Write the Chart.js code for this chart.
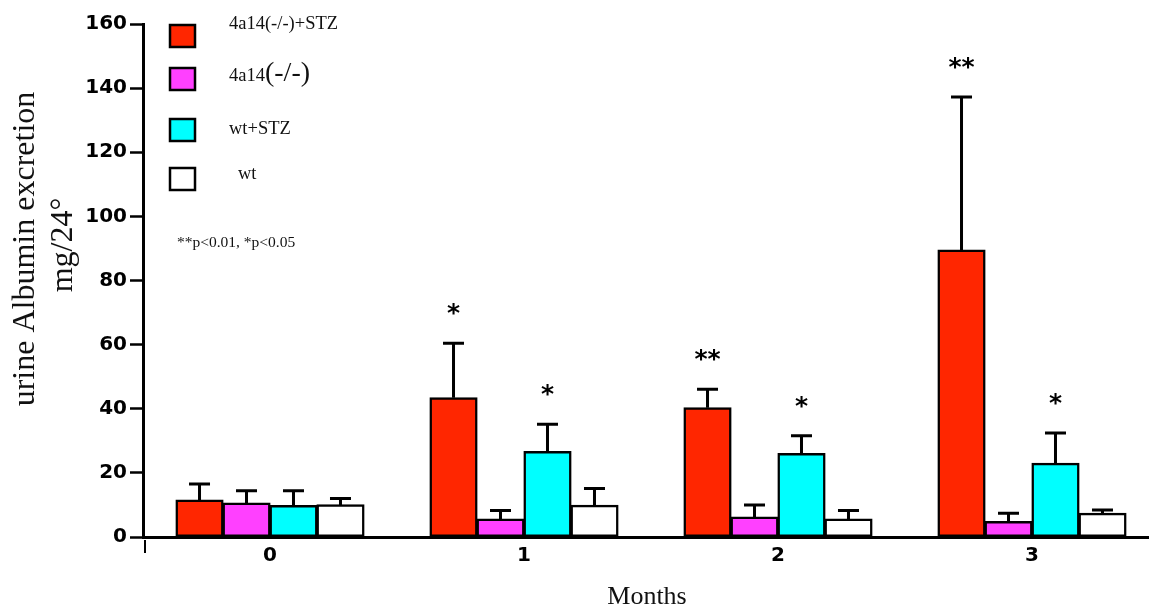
<!DOCTYPE html>
<html><head><meta charset="utf-8">
<script src="https://cdn.jsdelivr.net/npm/chart.js@4.4.1/dist/chart.umd.min.js"></script>
<style>html,body{margin:0;padding:0;overflow:hidden;background:#fff;width:1149px;height:607px}canvas{display:block}</style>
</head><body>
<canvas id="c" width="1160" height="607"></canvas>
<script>
// ---- data ----
const months = ['0', '1', '2', '3'];
const seriesNames = ['4a14(-/-)+STZ', '4a14(-/-)', 'wt+STZ', 'wt'];
const koStz    = [11.5, 43.4, 40.3, 89.5];
const koStzErr = [5.0, 17.0, 5.8, 47.7];
const ko       = [10.6, 5.6, 6.2, 4.8];
const koErr    = [3.8, 2.7, 3.8, 2.6];
const wtStz    = [9.8, 26.6, 26.0, 23.0];
const wtStzErr = [4.6, 8.6, 5.6, 9.4];
const wt       = [10.0, 9.9, 5.6, 7.4];
const wtErr    = [2.0, 5.2, 2.7, 1.0];
const koStzSig = ['', '*', '**', '**'];
const wtStzSig = ['', '*', '*', '*'];
const yMin = 0, yMax = 160, yStep = 20;
const yTitleLines = ['urine Albumin excretion', 'mg/24°'];
const xTitle = 'Months';
const footnote = '**p<0.01, *p<0.05';

// ---- styles ----
const colors = ['#FF2600', '#FF40FF', '#00FFFF', '#FFFFFF'];
const SERIF = "'Liberation Serif', 'Times New Roman', serif";
const SANS = "'DejaVu Sans', sans-serif";

const values = [koStz, ko, wtStz, wt];
const errors = [koStzErr, koErr, wtStzErr, wtErr];
const sigs = [koStzSig, null, wtStzSig, null];

const datasets = seriesNames.map((n, i) => ({
  label: n, data: values[i], backgroundColor: colors[i],
  borderColor: '#000', borderWidth: 2.5, borderSkipped: false, inflateAmount: 0.6,
  errors: errors[i], sig: sigs[i]
}));

const overlay = {
  id: 'overlay',
  afterDatasetsDraw(chart) {
    const ctx = chart.ctx, y = chart.scales.y;
    chart.data.datasets.forEach((ds, di) => {
      const meta = chart.getDatasetMeta(di);
      meta.data.forEach((bar, i) => {
        const top = y.getPixelForValue(ds.data[i] + ds.errors[i]);
        ctx.save();
        ctx.strokeStyle = '#000'; ctx.lineWidth = 3; ctx.lineCap = 'butt';
        ctx.beginPath();
        ctx.moveTo(bar.x, bar.y); ctx.lineTo(bar.x, top);
        ctx.moveTo(bar.x - 10.5, top); ctx.lineTo(bar.x + 10.5, top);
        ctx.stroke();
        if (ds.sig && ds.sig[i]) {
          ctx.font = 'bold 25px ' + SANS; ctx.fillStyle = '#000';
          ctx.textAlign = 'center'; ctx.textBaseline = 'alphabetic';
          ctx.fillText(ds.sig[i], bar.x, top - 22);
        }
        ctx.restore();
      });
    });
  },
  afterDraw(chart) {
    const ctx = chart.ctx, ca = chart.chartArea;
    ctx.save();
    // legend
    const boxTops = [25, 68, 119, 168];
    const labX = [229, 229, 229, 238];
    const labBase = [29, 81, 134, 179];
    chart.data.datasets.forEach((ds, i) => {
      ctx.fillStyle = ds.backgroundColor;
      ctx.fillRect(ca.left + 27, boxTops[i], 25, 22);
      ctx.strokeStyle = '#000'; ctx.lineWidth = 2.5;
      ctx.strokeRect(ca.left + 27, boxTops[i], 25, 22);
      ctx.fillStyle = '#111'; ctx.textAlign = 'left'; ctx.textBaseline = 'alphabetic';
      const m = /^(.*?)(\(-\/-\))$/.exec(ds.label);
      if (m) {
        ctx.font = '18.5px ' + SERIF;
        ctx.fillText(m[1], labX[i], labBase[i]);
        const w = ctx.measureText(m[1]).width;
        ctx.font = '28px ' + SERIF;
        ctx.fillText(m[2], labX[i] + w, labBase[i]);
      } else {
        ctx.font = '18.5px ' + SERIF;
        ctx.fillText(ds.label, labX[i], labBase[i]);
      }
    });
    // footnote
    ctx.font = '15.5px ' + SERIF; ctx.fillStyle = '#111';
    ctx.fillText(footnote, 177, 247);
    // y title
    ctx.font = '32px ' + SERIF; ctx.textAlign = 'center'; ctx.fillStyle = '#111';
    ctx.save(); ctx.translate(34, 249); ctx.rotate(-Math.PI / 2); ctx.fillText(yTitleLines[0], 0, 0); ctx.restore();
    ctx.save(); ctx.translate(72, 245); ctx.rotate(-Math.PI / 2); ctx.fillText(yTitleLines[1], 0, 0); ctx.restore();
    // x title
    ctx.font = '26px ' + SERIF; ctx.textAlign = 'center';
    ctx.fillText(xTitle, 647, 604);
    // small stray tick under origin
    ctx.fillStyle = '#000';
    ctx.fillRect(ca.left + 1, ca.bottom + 3, 2, 13);
    ctx.restore();
  }
};

new Chart(document.getElementById('c'), {
  type: 'bar',
  data: { labels: months, datasets },
  options: {
    responsive: false, animation: false,
    layout: { padding: { top: 24, left: 0, right: 1, bottom: 0 } },
    datasets: { bar: { categoryPercentage: 0.74, barPercentage: 1.0 } },
    plugins: { legend: { display: false }, tooltip: { enabled: false } },
    scales: {
      x: {
        type: 'category', offset: true,
        grid: { display: false, drawTicks: false },
        border: { display: true, color: '#000', width: 3 },
        ticks: { color: '#000', font: { family: SANS, size: 20, weight: 'bold' }, padding: 7 },
        afterFit(s) { s.height = 70; }
      },
      y: {
        min: yMin, max: yMax,
        ticks: { stepSize: yStep, color: '#000', font: { family: SANS, size: 20, weight: 'bold' }, padding: 3 },
        grid: { drawOnChartArea: false, drawTicks: true, tickLength: 13, tickWidth: 2.5, tickColor: '#000' },
        border: { display: true, color: '#000', width: 3 },
        afterFit(s) { s.width = 143; }
      }
    }
  },
  plugins: [overlay]
});
</script>
</body></html>
